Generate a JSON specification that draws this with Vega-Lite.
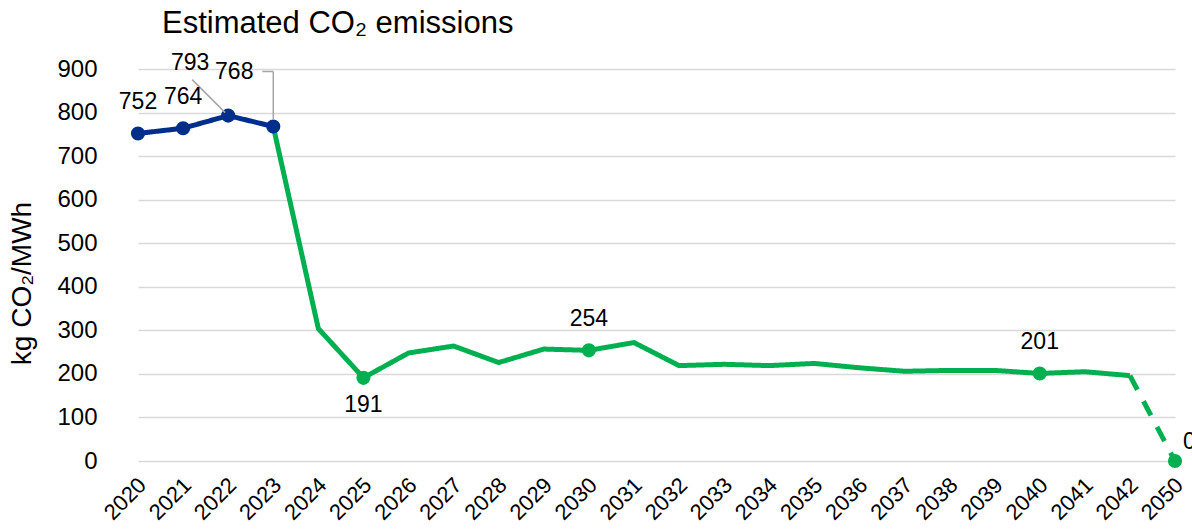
{
  "$schema": "https://vega.github.io/schema/vega-lite/v6.json",
  "autosize": {"type": "none"},
  "padding": {"left": 116, "top": 69, "right": 0, "bottom": 69},
  "width": 1076,
  "height": 392,
  "background": "white",
  "config": {
    "font": "Liberation Sans",
    "view": {"stroke": null},
    "axis": {"labelColor": "#000000", "titleColor": "#000000", "labelFont": "Liberation Sans", "titleFont": "Liberation Sans"}
  },
  "title": {
    "text": "Estimated CO₂ emissions",
    "anchor": "start",
    "frame": "group",
    "dx": 46,
    "offset": -12,
    "baseline": "alphabetic",
    "fontSize": 31,
    "fontWeight": "normal",
    "color": "#000000",
    "font": "Liberation Sans"
  },
  "data": {
    "values": [
      {"year": "2020", "value": 752, "seg": "hist", "dot": true, "label": "752", "pos": "above"},
      {"year": "2021", "value": 764, "seg": "hist", "dot": true, "label": "764", "pos": "above"},
      {"year": "2022", "value": 793, "seg": "hist", "dot": true, "label": "793", "pos": "lead1"},
      {"year": "2023", "value": 768, "seg": "hist", "dot": true, "label": "768", "pos": "lead2"},
      {"year": "2023", "value": 768, "seg": "proj", "dot": false, "label": "", "pos": ""},
      {"year": "2024", "value": 304, "seg": "proj", "dot": false, "label": "", "pos": ""},
      {"year": "2025", "value": 191, "seg": "proj", "dot": true, "label": "191", "pos": "below"},
      {"year": "2026", "value": 248, "seg": "proj", "dot": false, "label": "", "pos": ""},
      {"year": "2027", "value": 264, "seg": "proj", "dot": false, "label": "", "pos": ""},
      {"year": "2028", "value": 226, "seg": "proj", "dot": false, "label": "", "pos": ""},
      {"year": "2029", "value": 257, "seg": "proj", "dot": false, "label": "", "pos": ""},
      {"year": "2030", "value": 254, "seg": "proj", "dot": true, "label": "254", "pos": "above"},
      {"year": "2031", "value": 272, "seg": "proj", "dot": false, "label": "", "pos": ""},
      {"year": "2032", "value": 219, "seg": "proj", "dot": false, "label": "", "pos": ""},
      {"year": "2033", "value": 222, "seg": "proj", "dot": false, "label": "", "pos": ""},
      {"year": "2034", "value": 219, "seg": "proj", "dot": false, "label": "", "pos": ""},
      {"year": "2035", "value": 224, "seg": "proj", "dot": false, "label": "", "pos": ""},
      {"year": "2036", "value": 214, "seg": "proj", "dot": false, "label": "", "pos": ""},
      {"year": "2037", "value": 206, "seg": "proj", "dot": false, "label": "", "pos": ""},
      {"year": "2038", "value": 208, "seg": "proj", "dot": false, "label": "", "pos": ""},
      {"year": "2039", "value": 208, "seg": "proj", "dot": false, "label": "", "pos": ""},
      {"year": "2040", "value": 201, "seg": "proj", "dot": true, "label": "201", "pos": "above"},
      {"year": "2041", "value": 205, "seg": "proj", "dot": false, "label": "", "pos": ""},
      {"year": "2042", "value": 196, "seg": "proj", "dot": false, "label": "", "pos": ""},
      {"year": "2042", "value": 196, "seg": "tail", "dot": false, "label": "", "pos": ""},
      {"year": "2050", "value": 0, "seg": "tail", "dot": true, "label": "0", "pos": "right"}
    ]
  },
  "encoding": {
    "x": {
      "field": "year",
      "type": "ordinal",
      "sort": null,
      "scale": {"type": "point", "range": [22, 1059], "padding": 0},
      "axis": {"title": null, "labelAngle": -45, "labelFontSize": 22, "labelPadding": 13, "labelOffset": -3, "ticks": false, "domain": false, "grid": false}
    },
    "y": {
      "field": "value",
      "type": "quantitative",
      "scale": {"domain": [0, 900], "nice": false},
      "axis": {
        "title": "kg CO₂/MWh",
        "titleFontSize": 28,
        "titleFontWeight": "normal",
        "titlePadding": 20,
        "titleY": 214,
        "values": [0, 100, 200, 300, 400, 500, 600, 700, 800, 900],
        "labelFontSize": 24,
        "labelPadding": 19,
        "ticks": false,
        "domain": false,
        "grid": true,
        "gridColor": "#D9D9D9",
        "gridWidth": 1.5
      }
    }
  },
  "layer": [
    {
      "mark": {"type": "line", "strokeWidth": 5, "strokeCap": "butt", "strokeJoin": "miter"},
      "encoding": {
        "color": {"field": "seg", "type": "nominal", "scale": {"domain": ["hist", "proj", "tail"], "range": ["#002E8A", "#00B050", "#00B050"]}, "legend": null},
        "strokeDash": {"field": "seg", "type": "nominal", "scale": {"domain": ["hist", "proj", "tail"], "range": [[1, 0], [1, 0], [16, 13]]}, "legend": null},
        "detail": {"field": "seg"}
      }
    },
    {
      "transform": [{"filter": "datum.dot"}],
      "mark": {"type": "point", "filled": true, "opacity": 1, "size": 200},
      "encoding": {
        "color": {"field": "seg", "type": "nominal", "scale": {"domain": ["hist", "proj", "tail"], "range": ["#002E8A", "#00B050", "#00B050"]}, "legend": null}
      }
    },
    {
      "transform": [{"filter": "datum.pos == 'lead1'"}],
      "mark": {"type": "rule", "color": "#A6A6A6", "strokeWidth": 1.5, "xOffset": -36, "yOffset": -36, "x2Offset": -3, "y2Offset": -3},
      "encoding": {"x2": {"field": "year"}, "y2": {"field": "value"}}
    },
    {
      "transform": [{"filter": "datum.pos == 'lead2'"}],
      "mark": {"type": "rule", "color": "#A6A6A6", "strokeWidth": 1.5, "xOffset": -11, "yOffset": -55, "x2Offset": 0, "y2Offset": -55},
      "encoding": {"x2": {"field": "year"}, "y2": {"field": "value"}}
    },
    {
      "transform": [{"filter": "datum.pos == 'lead2'"}],
      "mark": {"type": "rule", "color": "#A6A6A6", "strokeWidth": 1.5, "xOffset": 0, "yOffset": -55, "x2Offset": 0, "y2Offset": -7},
      "encoding": {"x2": {"field": "year"}, "y2": {"field": "value"}}
    },
    {
      "transform": [{"filter": "datum.pos == 'above'"}],
      "mark": {"type": "text", "fontSize": 23, "color": "#000000", "dy": -31, "baseline": "middle", "align": "center"},
      "encoding": {"text": {"field": "label"}}
    },
    {
      "transform": [{"filter": "datum.pos == 'below'"}],
      "mark": {"type": "text", "fontSize": 23, "color": "#000000", "dy": 27, "baseline": "middle", "align": "center"},
      "encoding": {"text": {"field": "label"}}
    },
    {
      "transform": [{"filter": "datum.pos == 'lead1'"}],
      "mark": {"type": "text", "fontSize": 23, "color": "#000000", "dx": -38, "dy": -53, "baseline": "middle", "align": "center"},
      "encoding": {"text": {"field": "label"}}
    },
    {
      "transform": [{"filter": "datum.pos == 'lead2'"}],
      "mark": {"type": "text", "fontSize": 23, "color": "#000000", "dx": -39, "dy": -54, "baseline": "middle", "align": "center"},
      "encoding": {"text": {"field": "label"}}
    },
    {
      "transform": [{"filter": "datum.pos == 'right'"}],
      "mark": {"type": "text", "fontSize": 23, "color": "#000000", "dx": 8, "dy": -19, "baseline": "middle", "align": "left"},
      "encoding": {"text": {"field": "label"}}
    }
  ]
}
